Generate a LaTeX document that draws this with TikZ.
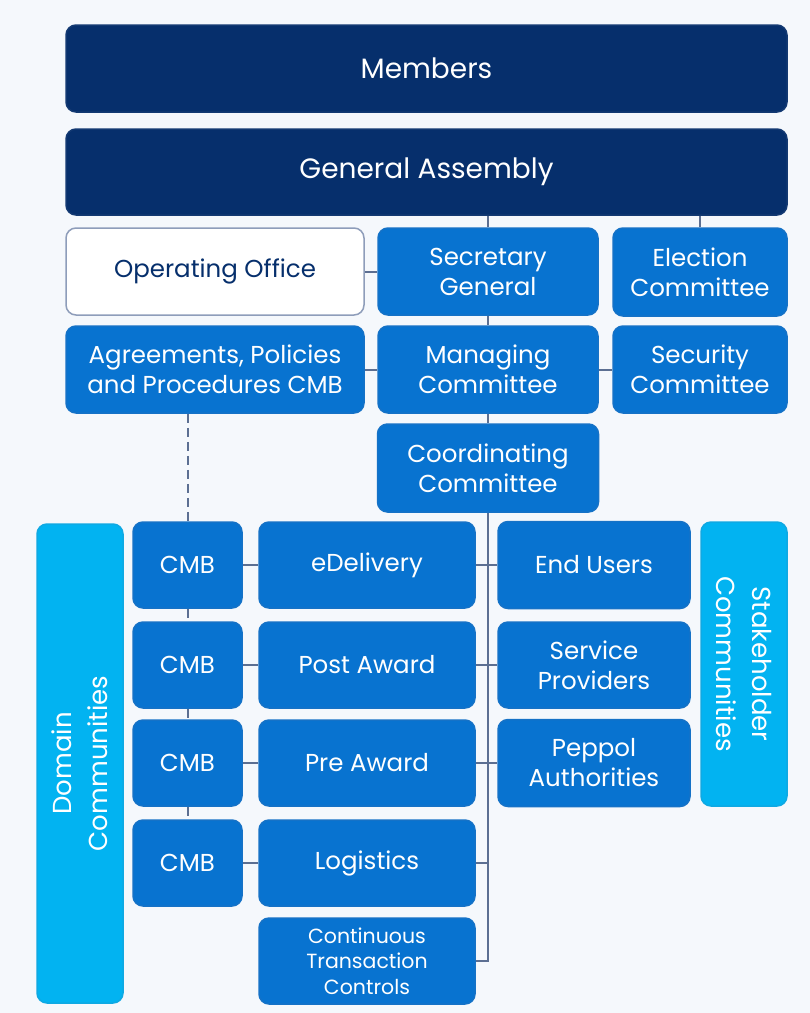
\documentclass[tikz,border=0pt]{standalone}
\usepackage{fontspec}
\setmainfont{Poppins}
\usetikzlibrary{positioning}

\definecolor{navy}{HTML}{062F6C}
\definecolor{midblue}{HTML}{0873D0}
\definecolor{skyblue}{HTML}{02B3F1}
\definecolor{linegray}{HTML}{5C6F92}
\definecolor{bggray}{HTML}{F5F8FC}
\definecolor{edgegray}{HTML}{8E9DBA}

\tikzset{
  box/.style={rounded corners=10pt, fill=midblue, draw=midblue!85!linegray, line width=1.5pt,
    text=white, align=center, inner sep=0pt, font=\fontsize{24.5}{30}\selectfont},
  topbox/.style={box, fill=navy, draw=navy!85!linegray, font=\fontsize{28}{32}\selectfont},
  plainbox/.style={box, fill=white, draw=edgegray, text=navy},
  sidebox/.style={box, fill=skyblue, draw=skyblue!85!linegray, font=\fontsize{26}{36}\selectfont},
  sz/.style 2 args={minimum width=#1, minimum height=#2},
  link/.style={draw=linegray, line width=2pt},
  dashlink/.style={link, dash pattern=on 9pt off 5pt},
}

\begin{document}
\begin{tikzpicture}[x=1pt, y=-1pt]
  % background
  \fill[bggray] (0,0) rectangle (810,1013);
  \useasboundingbox (0,0) rectangle (810,1013);

  % top boxes
  \node[topbox, sz={721}{87}] (members) at (426.5,68.5) {Members};
  \node[topbox, sz={721}{86}] (assembly) at (426.5,172) {General Assembly};

  % second row
  \node[plainbox, sz={298}{87}] (office) at (215,271.5) {Operating Office};
  \node[box, sz={220}{87}] (secgen) at (488,271.5) {Secretary\\General};
  \node[box, sz={174}{88}] (election) at (700,272) {Election\\Committee};

  % third row
  \node[box, sz={298}{87}] (agree) at (215,369.5) {Agreements, Policies\\and Procedures CMB};
  \node[box, sz={220}{87}] (managing) at (488,369.5) {Managing\\Committee};
  \node[box, sz={174}{87}] (security) at (700,369.5) {Security\\Committee};

  \node[box, sz={221}{88}] (coord) at (488,468) {Coordinating\\Committee};

  % communities
  \node[sidebox, rotate=90, sz={479}{86}] (domain) at (80,763.5) {Domain\\Communities};
  \node[sidebox, rotate=-90, sz={284}{86}] (stake) at (744,664) {Stakeholder\\Communities};

  \node[box, sz={109}{86}] (cmbA) at (187.5,565) {CMB};
  \node[box, sz={109}{86}] (cmbB) at (187.5,665) {CMB};
  \node[box, sz={109}{86}] (cmbC) at (187.5,763) {CMB};
  \node[box, sz={109}{86}] (cmbD) at (187.5,863) {CMB};

  \node[box, sz={216}{86}] (edeliv) at (367,565) {eDelivery};
  \node[box, sz={216}{86}] (post) at (367,665) {Post Award};
  \node[box, sz={216}{86}] (pre) at (367,763) {Pre Award};
  \node[box, sz={216}{86}] (logist) at (367,863) {Logistics};
  \node[box, sz={216}{86}, font=\fontsize{20.5}{25.5}\selectfont] (ctc) at (367,961) {Continuous\\Transaction\\Controls};

  \node[box, sz={192}{87}] (users) at (594,565) {End Users};
  \node[box, sz={192}{86}] (providers) at (594,665) {Service\\Providers};
  \node[box, sz={192}{87}] (peppol) at (594,763) {Peppol\\Authorities};

  % connectors
  \draw[link] (secgen.north) -- (secgen.north |- assembly.south);
  \draw[link] (election.north) -- (election.north |- assembly.south);
  \draw[link] (office.east) -- (secgen.west);
  \draw[link] (secgen.south) -- (managing.north);
  \draw[link] (agree.east) -- (managing.west);
  \draw[link] (managing.east) -- (security.west);
  \draw[link] (managing.south) -- (coord.north);
  \draw[link] (coord.south) |- (ctc.east);
  \draw[link] (edeliv.east) -- (users.west);
  \draw[link] (post.east) -- (providers.west);
  \draw[link] (pre.east) -- (peppol.west);
  \draw[link] (logist.east) -- (logist.east -| coord.south);
  \draw[link] (cmbA.east) -- (edeliv.west);
  \draw[link] (cmbB.east) -- (post.west);
  \draw[link] (cmbC.east) -- (pre.west);
  \draw[link] (cmbD.east) -- (logist.west);
  \draw[dashlink] (cmbA.north |- agree.south) -- (cmbA.north);
  \draw[dashlink] (cmbA.south) -- (cmbB.north);
  \draw[dashlink] (cmbB.south) -- (cmbC.north);
  \draw[dashlink] (cmbC.south) -- (cmbD.north);
\end{tikzpicture}
\end{document}
